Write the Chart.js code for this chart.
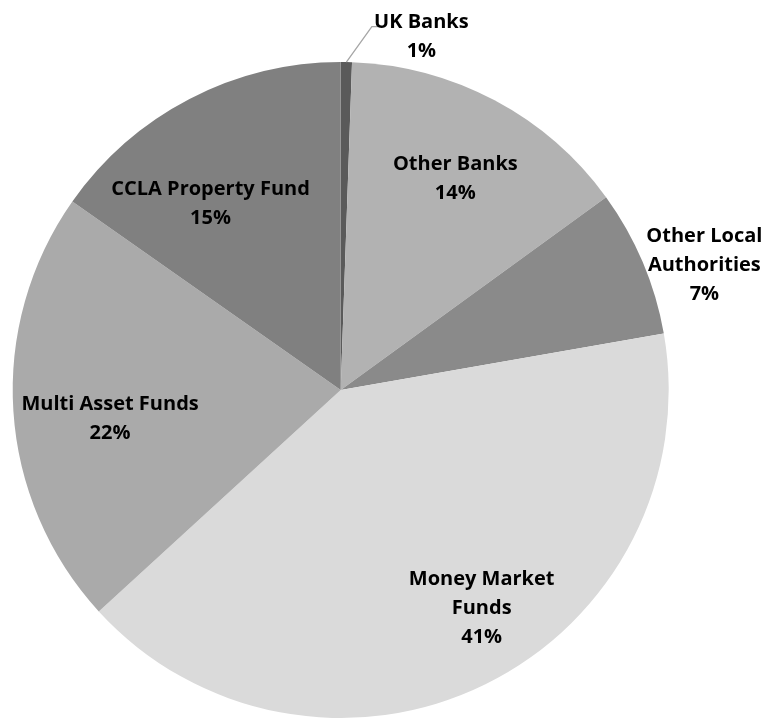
<!DOCTYPE html>
<html>
<head>
<meta charset="utf-8">
<script src="https://cdn.jsdelivr.net/npm/chart.js@4"></script>
<style>
  html, body { margin: 0; padding: 0; background: #ffffff; }
  #wrap { width: 768px; height: 718px; position: relative; }
</style>
</head>
<body>
<div id="wrap"><canvas id="c"></canvas></div>
<script>
// ---- data ----
const categories = ["UK Banks", "Other Banks", "Other Local Authorities", "Money Market Funds", "Multi Asset Funds", "CCLA Property Fund"];
const values = [0.55, 14.45, 7.25, 40.95, 21.55, 15.25];
const percentLabels = ["1%", "14%", "7%", "41%", "22%", "15%"];
// label text split into lines as displayed
const labelLines = [["UK Banks"], ["Other Banks"], ["Other Local", "Authorities"], ["Money Market", "Funds"], ["Multi Asset Funds"], ["CCLA Property Fund"]];

// ---- styles ----
const colors = ["#5a5a5a", "#b2b2b2", "#8a8a8a", "#dadada", "#aaaaaa", "#808080"];
// label placement in polar terms: angle clockwise from top (deg), distance as fraction of radius
const labelPolar = [[12.8, 1.11], [28.3, 0.737], [70.8, 1.174], [146.9, 0.787], [263.3, 0.708], [325.3, 0.697]];
const leader = { index: 0, elbowAngle: 4.9, elbowFactor: 1.112, tail: 11 };
const FONT = "bold 20px 'Open Sans', Lato, sans-serif";
const LINE_H = 29;
const BASE_SHIFT = 2;

const labelPlugin = {
  id: 'pieLabels',
  afterDatasetsDraw(chart) {
    const ctx = chart.ctx;
    const meta = chart.getDatasetMeta(0);
    ctx.save();
    meta.data.forEach((arc, i) => {
      const cx = arc.x, cy = arc.y, R = arc.outerRadius;
      if (i === leader.index) {
        const mid = (arc.startAngle + arc.endAngle) / 2;
        const sx = cx + R * Math.cos(mid), sy = cy + R * Math.sin(mid);
        const ea = leader.elbowAngle * Math.PI / 180;
        const ex = cx + R * leader.elbowFactor * Math.sin(ea);
        const ey = cy - R * leader.elbowFactor * Math.cos(ea);
        ctx.strokeStyle = "#a6a6a6";
        ctx.lineWidth = 1.3;
        ctx.beginPath();
        ctx.moveTo(sx, sy);
        ctx.lineTo(ex, ey);
        ctx.lineTo(ex + leader.tail, ey);
        ctx.stroke();
      }
      const [angDeg, f] = labelPolar[i];
      const a = angDeg * Math.PI / 180;
      const lx = cx + R * f * Math.sin(a);
      const ly = cy - R * f * Math.cos(a) + BASE_SHIFT;
      const lines = labelLines[i].concat([percentLabels[i]]);
      ctx.font = FONT;
      ctx.fillStyle = "#000000";
      ctx.textAlign = "center";
      ctx.textBaseline = "middle";
      const top = ly - (lines.length - 1) * LINE_H / 2;
      lines.forEach((t, k) => ctx.fillText(t, lx, top + k * LINE_H));
    });
    ctx.restore();
  }
};

new Chart(document.getElementById('c'), {
  type: 'pie',
  data: {
    labels: categories,
    datasets: [{
      data: values,
      backgroundColor: colors,
      borderWidth: 0,
      hoverOffset: 0
    }]
  },
  options: {
    responsive: true,
    maintainAspectRatio: false,
    animation: false,
    layout: { padding: { left: 12.7, right: 99.3, top: 62, bottom: 0 } },
    plugins: {
      legend: { display: false },
      tooltip: { enabled: false },
      title: { display: false }
    }
  },
  plugins: [labelPlugin]
});
</script>
</body>
</html>
